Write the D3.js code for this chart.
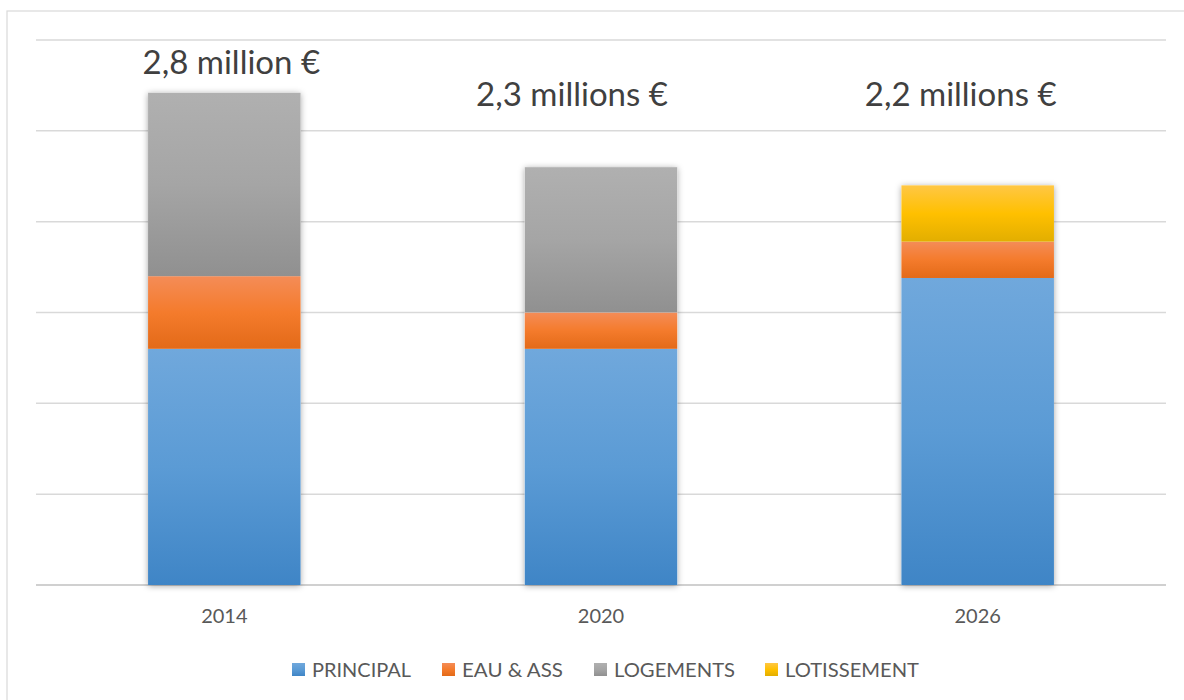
<!DOCTYPE html>
<html><head><meta charset="utf-8">
<script src="https://cdn.jsdelivr.net/npm/d3@7"></script>
<style>body{margin:0;background:#fff}svg{display:block}text{font-family:Lato,"Open Sans",sans-serif}</style>
</head><body>
<svg id="c" width="1184" height="700"></svg>
<script>
const years = ["2014","2020","2026"];
const seriesNames = ["PRINCIPAL","EAU & ASS","LOGEMENTS","LOTISSEMENT"];
const principal = [1.30, 1.30, 1.69];
const eauAss = [0.40, 0.20, 0.20];
const logements = [1.01, 0.80, 0];
const lotissement = [0, 0, 0.31];
const totalLabels = ["2,8 million €","2,3 millions €","2,2 millions €"];
const yTicks = [0,0.5,1,1.5,2,2.5,3];

const grads = [
  ["#70a8dc","#5b9bd5","#3f85c6"],
  ["#f48c57","#f47b2c","#e36a18"],
  ["#b0b0b0","#a5a5a5","#909090"],
  ["#ffc745","#ffc000","#e2ae00"]
];

const svg = d3.select("#c");
const defs = svg.append("defs");
grads.forEach((g,i)=>{
  const lg = defs.append("linearGradient").attr("id","g"+i).attr("x1",0).attr("y1",0).attr("x2",0).attr("y2",1);
  lg.append("stop").attr("offset","0%").attr("stop-color",g[0]);
  lg.append("stop").attr("offset","50%").attr("stop-color",g[1]);
  lg.append("stop").attr("offset","100%").attr("stop-color",g[2]);
});
const f = defs.append("filter").attr("id","sh").attr("x","-20%").attr("y","-20%").attr("width","140%").attr("height","140%");
f.append("feDropShadow").attr("dx",0).attr("dy",1).attr("stdDeviation",3).attr("flood-color","#000").attr("flood-opacity",0.35);

// frame
svg.append("rect").attr("x",7).attr("y",11).attr("width",1190).attr("height",700).attr("fill","none").attr("stroke","#d9d9d9").attr("stroke-width",1.2);

const x = d3.scaleBand().domain(years).range([36,1166]).padding(0);
const y = d3.scaleLinear().domain([0,3]).range([585,40]);

svg.append("g").selectAll("line").data(yTicks).join("line")
  .attr("x1",36).attr("x2",1166).attr("y1",d=>y(d)).attr("y2",d=>y(d))
  .attr("stroke",d=>d===0?"#d0d0d0":"#d9d9d9").attr("stroke-width",d=>d===0?2:1.5);

const rows = years.map((yr,i)=>({year:yr,"PRINCIPAL":principal[i],"EAU & ASS":eauAss[i],"LOGEMENTS":logements[i],"LOTISSEMENT":lotissement[i]}));
const stack = d3.stack().keys(seriesNames)(rows);
const bw = x.bandwidth()*0.405;
const total = i => principal[i]+eauAss[i]+logements[i]+lotissement[i];

const barsG = svg.append("g").attr("filter","url(#sh)");
barsG.selectAll("rect").data(rows).join("rect")
  .attr("x",d=>x(d.year)+(x.bandwidth()-bw)/2).attr("width",bw)
  .attr("y",(d,i)=>y(total(i)))
  .attr("height",(d,i)=>y(0)-y(total(i)))
  .attr("fill","#fff");
const gb = svg.append("g");
stack.forEach((s,si)=>{
  gb.append("g").selectAll("rect").data(s.filter(d=>d[1]-d[0]>0)).join("rect")
    .attr("x",d=>x(d.data.year)+(x.bandwidth()-bw)/2).attr("width",bw)
    .attr("y",d=>y(d[1])).attr("height",d=>y(d[0])-y(d[1]))
    .attr("fill","url(#g"+si+")");
});

// year labels
svg.append("g").selectAll("text").data(years).join("text")
  .attr("x",d=>x(d)+x.bandwidth()/2).attr("y",623).attr("text-anchor","middle")
  .attr("font-size",20).attr("fill","#595959").text(d=>d);

// total labels
const lblOff = [{dx:7,y:74},{dx:-29,y:106},{dx:-17,y:106}];
svg.append("g").selectAll("text").data(totalLabels).join("text")
  .attr("x",(d,i)=>x(years[i])+x.bandwidth()/2+lblOff[i].dx).attr("y",(d,i)=>lblOff[i].y)
  .attr("text-anchor","middle").attr("font-size",33).attr("fill","#404040").text(d=>d);

// legend
const legX = [292,442,594,765];
const legW = [99,101,121,134];
const lg = svg.append("g");
seriesNames.forEach((n,i)=>{
  lg.append("rect").attr("x",legX[i]).attr("y",663).attr("width",13).attr("height",13).attr("fill","url(#g"+i+")");
  lg.append("text").attr("x",legX[i]+20).attr("y",677).attr("font-size",20).attr("fill","#595959")
    .attr("textLength",legW[i]).attr("lengthAdjust","spacingAndGlyphs").text(n);
});
</script>
</body></html>
